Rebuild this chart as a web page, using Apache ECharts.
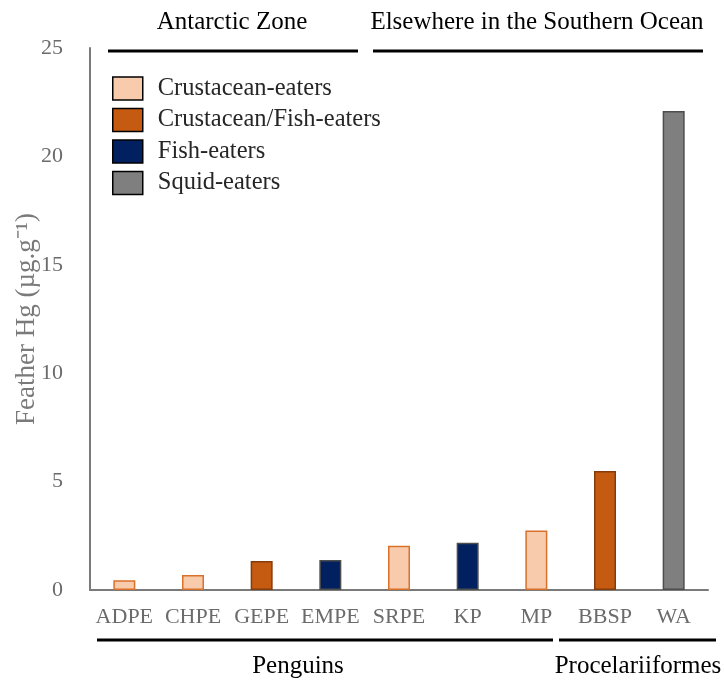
<!DOCTYPE html>
<html>
<head>
<meta charset="utf-8">
<script src="https://cdn.jsdelivr.net/npm/echarts@6/dist/echarts.min.js"></script>
<style>html,body{margin:0;padding:0;background:#fff}#c{width:724px;height:681px}</style>
</head>
<body>
<div id="c"></div>
<script>
var categories = ['ADPE','CHPE','GEPE','EMPE','SRPE','KP','MP','BBSP','WA'];
var values = [0.45, 0.69, 1.34, 1.38, 2.04, 2.18, 2.74, 5.49, 22.09];
var dietOfBar = ['Crustacean-eaters','Crustacean-eaters','Crustacean/Fish-eaters','Fish-eaters','Crustacean-eaters','Fish-eaters','Crustacean-eaters','Crustacean/Fish-eaters','Squid-eaters'];
var diets = ['Crustacean-eaters','Crustacean/Fish-eaters','Fish-eaters','Squid-eaters'];
var yTicks = [0, 5, 10, 15, 20, 25];

var fills = ['#F8CBAD','#C55A11','#002060','#7F7F7F'];
var borders = ['#D9712B','#843C0C','#4D4D4D','#4D4D4D'];
var FONT = '"Liberation Serif","Times New Roman",serif';

var series = diets.map(function(d, k){
  return {
    name: d,
    type: 'bar',
    barWidth: 22,
    barGap: '-100%',
    data: values.map(function(v, i){ return dietOfBar[i] === d ? v : null; }),
    itemStyle: {color: fills[k], borderColor: borders[k], borderWidth: 1.5}
  };
});

var chart = echarts.init(document.getElementById('c'), null, {renderer:'canvas'});
chart.setOption({
  animation: false,
  grid: {left: 90, right: 16, top: 48, bottom: 91, containLabel: false, outerBoundsMode: 'none'},
  legend: {
    orient: 'vertical', left: 107, top: 71,
    itemWidth: 30, itemHeight: 23, itemGap: 6.5,
    icon: 'rect',
    itemStyle: {borderColor: '#000', borderWidth: 1.5},
    textStyle: {fontFamily: FONT, fontSize: 24.5, color: '#262626', padding: [0,0,0,10]},
    data: diets
  },
  xAxis: {
    type: 'category', data: categories,
    axisLine: {lineStyle: {color: '#7a7a7a', width: 2}},
    axisTick: {show: false},
    axisLabel: {interval: 0, fontFamily: FONT, fontSize: 22, color: '#6b6b6b', margin: 16}
  },
  yAxis: {
    type: 'value', min: 0, max: 25, interval: 5,
    name: 'Feather Hg (µg.g\u207B\u00B9)',
    nameLocation: 'middle', nameGap: 50, nameMoveOverlap: false,
    nameTextStyle: {fontFamily: FONT, fontSize: 27, color: '#7a7a7a'},
    axisLine: {show: true, lineStyle: {color: '#7a7a7a', width: 2}},
    axisTick: {show: false},
    splitLine: {show: false},
    axisLabel: {fontFamily: FONT, fontSize: 22, color: '#6b6b6b', margin: 27,
      formatter: function(v){ return yTicks.indexOf(v) >= 0 ? String(v) : ''; }}
  },
  graphic: [
    {type:'line', shape:{x1:108,y1:51,x2:358,y2:51}, style:{stroke:'#000', lineWidth:3}},
    {type:'line', shape:{x1:373,y1:51,x2:703,y2:51}, style:{stroke:'#000', lineWidth:3}},
    {type:'text', x:232, y:22, style:{text:'Antarctic Zone', font:'25px '+FONT, fill:'#000', textAlign:'center', textVerticalAlign:'middle'}},
    {type:'text', x:537, y:22, style:{text:'Elsewhere in the Southern Ocean', font:'25px '+FONT, fill:'#000', textAlign:'center', textVerticalAlign:'middle'}},
    {type:'line', shape:{x1:97,y1:640,x2:553,y2:640}, style:{stroke:'#000', lineWidth:3}},
    {type:'line', shape:{x1:559,y1:640,x2:716,y2:640}, style:{stroke:'#000', lineWidth:3}},
    {type:'text', x:298, y:666, style:{text:'Penguins', font:'25px '+FONT, fill:'#000', textAlign:'center', textVerticalAlign:'middle'}},
    {type:'text', x:638, y:666, style:{text:'Procelariiformes', font:'25px '+FONT, fill:'#000', textAlign:'center', textVerticalAlign:'middle'}}
  ],
  series: series
});
</script>
</body>
</html>
